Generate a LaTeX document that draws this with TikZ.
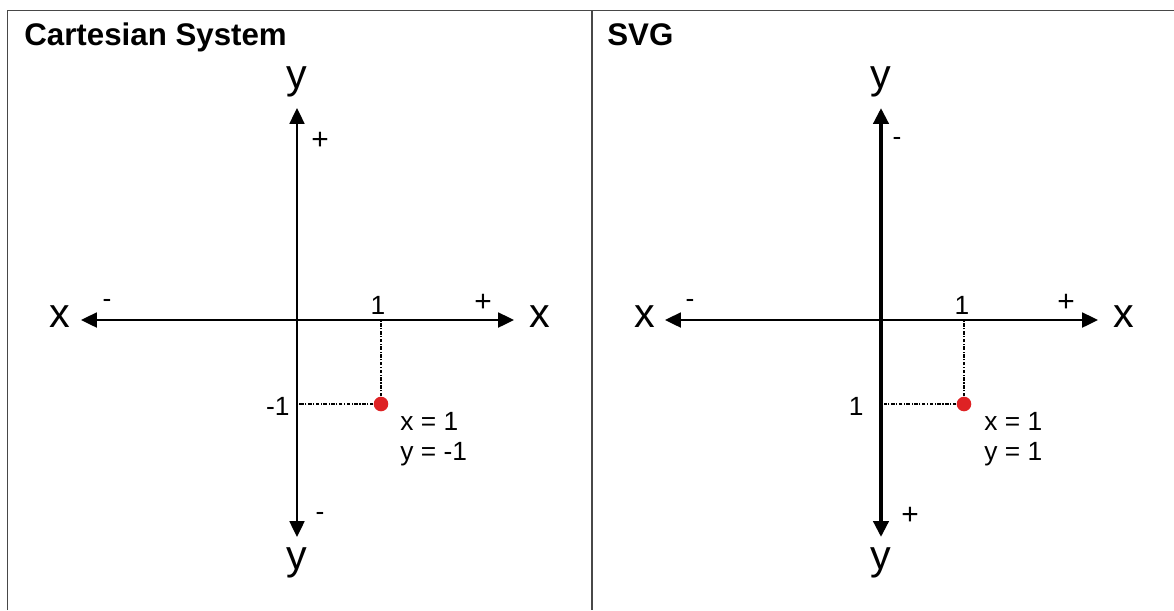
\documentclass[tikz,border=0pt]{standalone}
\usepackage{fontspec}
\setmainfont{Liberation Sans}
\usetikzlibrary{arrows.meta}

\definecolor{dotred}{RGB}{222,34,36}
\definecolor{framegray}{RGB}{72,72,72}

\begin{document}
\begin{tikzpicture}[x=0.02cm,y=-0.02cm,
    line cap=butt,line join=miter,
    axis/.style={line width=1.15pt,
      {Triangle[length=9pt,width=8.5pt]}-{Triangle[length=9pt,width=8.5pt]}},
    guide/.style={line width=.6pt,dash pattern=on 2pt off .9pt on .6pt off .9pt},
    axlabel/.style={font=\fontsize{23.5}{28}\selectfont,inner sep=0pt,anchor=base},
    sign/.style={font=\fontsize{15}{18}\selectfont,inner sep=0pt,anchor=base},
    plus/.style={font=\fontsize{17}{20}\selectfont,inner sep=0pt,anchor=base},
    small/.style={font=\fontsize{15}{18}\selectfont,inner sep=0pt,anchor=base west},
    title/.style={font=\fontsize{17.8}{21}\selectfont\bfseries,inner sep=0pt,anchor=base west},
    point/.style={circle,fill=dotred,inner sep=0pt,minimum size=8.3pt}]
    \useasboundingbox (0,0) rectangle (1174,610);

    % The frame and the divider between the two systems.
    \draw[framegray,line width=.6pt] (7.5,610) -- (7.5,10.5) -- (1174,10.5);
    \draw[framegray,line width=.6pt] (592,10.5) -- (592,610);

    \node[title] (titleL) at (24,45) {Cartesian System};
    \node[title] (titleR) at (607,45) {SVG};

    % Left: the cartesian system.
    \coordinate (yL-top) at (297,108);
    \coordinate (yL-bot) at (297,537);
    \coordinate (xL-lft) at (81,320);
    \coordinate (xL-rgt) at (514,320);
    \draw[axis] (xL-lft) -- (xL-rgt);
    \draw[axis] (yL-bot) -- (yL-top);

    \node[axlabel] (yL-topl) at (297,88) {y};
    \node[axlabel] (yL-botl) at (297,569) {y};
    \node[axlabel] (xL-lftl) at (60,327) {x};
    \node[axlabel] (xL-rgtl) at (540,327) {x};

    \node[plus] (yL-plus) at (320,149) {+};
    \node[sign] (yL-minus) at (320,520) {-};
    \node[sign] (xL-minus) at (107,307) {-};
    \node[plus] (xL-plus) at (483,311) {+};

    \node[sign] (xL-one) at (378,314) {1};
    \node[sign,anchor=base east] (yL-one) at (290,415) {-1};

    \node[point] (pL) at (381,404) {};
    \coordinate (pL-x) at (381,321);
    \coordinate (pL-y) at (298.5,404);
    \draw[guide] (pL) -- (pL-x);
    \draw[guide] (pL) -- (pL-y);

    \node[small] (pL-xv) at (400,430) {x = 1};
    \node[small] (pL-yv) at (400,460) {y = -1};

    % Right: the SVG system, y grows downwards.
    \coordinate (yR-top) at (881,108);
    \coordinate (yR-bot) at (881,537);
    \coordinate (xR-lft) at (665,320);
    \coordinate (xR-rgt) at (1098,320);
    \draw[axis] (xR-lft) -- (xR-rgt);
    \draw[axis,line width=2.2pt] (yR-bot) -- (yR-top);

    \node[axlabel] (yR-topl) at (881,88) {y};
    \node[axlabel] (yR-botl) at (881,569) {y};
    \node[axlabel] (xR-lftl) at (645,327) {x};
    \node[axlabel] (xR-rgtl) at (1124,327) {x};

    \node[sign] (yR-minus) at (897,145) {-};
    \node[plus] (yR-plus) at (910,524) {+};
    \node[sign] (xR-minus) at (690,307) {-};
    \node[plus] (xR-plus) at (1066,311) {+};

    \node[sign] (xR-one) at (962,314) {1};
    \node[sign,anchor=base east] (yR-one) at (864,415) {1};

    \node[point] (pR) at (964,404) {};
    \coordinate (pR-x) at (964,321);
    \coordinate (pR-y) at (883.5,404);
    \draw[guide] (pR) -- (pR-x);
    \draw[guide] (pR) -- (pR-y);

    \node[small] (pR-xv) at (984,430) {x = 1};
    \node[small] (pR-yv) at (984,460) {y = 1};
  \end{tikzpicture}
\end{document}
